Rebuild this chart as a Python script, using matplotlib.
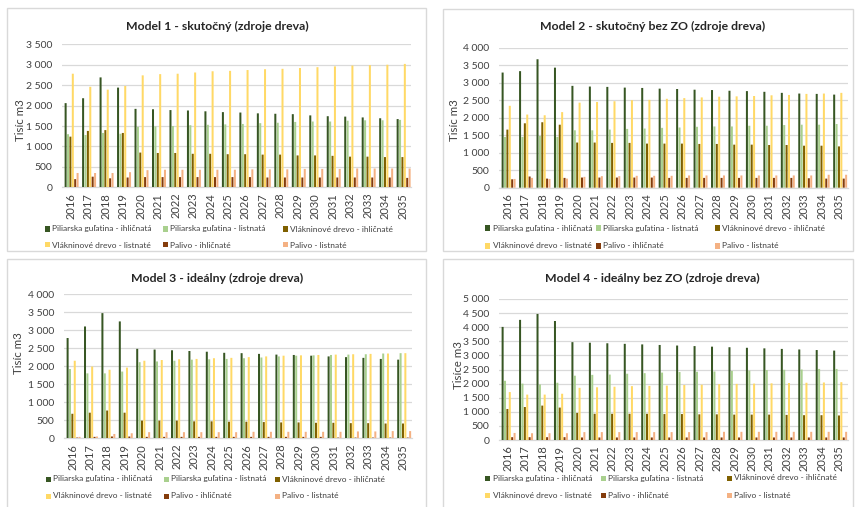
import matplotlib
matplotlib.use("Agg")
import matplotlib.pyplot as plt
from matplotlib.patches import Rectangle
from matplotlib.ticker import FuncFormatter, MultipleLocator
import numpy as np

plt.rcParams['font.family'] = ['Lato', 'DejaVu Sans']

years = [str(y) for y in range(2016, 2036)]
series_names = [
    "Piliarska guľatina - ihličnatá",
    "Piliarska guľatina - listnatá",
    "Vlákninové drevo - ihličnaté",
    "Vlákninové drevo - listnaté",
    "Palivo - ihličnaté",
    "Palivo - listnaté",
]
colors = ["#375623", "#A9D08E", "#7F6000", "#FFD966", "#843C0C", "#F4B183"]

# Model 1 - skutočný
m1_pgi = [2060, 2180, 2690, 2440, 1920, 1910, 1890, 1880, 1860, 1840, 1830, 1810, 1800, 1790, 1760, 1740, 1730, 1710, 1690, 1670]
m1_pgl = [1300, 1280, 1330, 1310, 1480, 1490, 1500, 1520, 1530, 1540, 1550, 1570, 1580, 1600, 1610, 1610, 1630, 1640, 1640, 1650]
m1_vdi = [1240, 1380, 1400, 1330, 850, 840, 840, 820, 820, 810, 810, 800, 800, 780, 780, 770, 750, 750, 740, 740]
m1_vdl = [2780, 2460, 2390, 2480, 2740, 2770, 2780, 2810, 2840, 2850, 2870, 2890, 2900, 2920, 2940, 2960, 2980, 2990, 3000, 3020]
m1_pi = [200, 260, 220, 240, 250, 250, 250, 250, 250, 250, 250, 240, 240, 240, 240, 240, 240, 240, 240, 230]
m1_pl = [350, 350, 350, 370, 420, 430, 430, 430, 430, 430, 440, 440, 440, 450, 450, 450, 460, 460, 460, 460]

# Model 2 - skutočný bez ZO
m2_pgi = [3290, 3330, 3670, 3430, 2910, 2890, 2880, 2860, 2850, 2830, 2820, 2800, 2790, 2770, 2760, 2740, 2710, 2690, 2680, 2660]
m2_pgl = [1450, 1450, 1480, 1450, 1640, 1640, 1660, 1680, 1690, 1710, 1720, 1740, 1750, 1750, 1770, 1770, 1790, 1800, 1800, 1820]
m2_vdi = [1660, 1840, 1870, 1800, 1290, 1290, 1280, 1280, 1260, 1260, 1260, 1250, 1250, 1230, 1230, 1220, 1220, 1200, 1200, 1180]
m2_vdl = [2340, 2090, 2070, 2160, 2430, 2450, 2470, 2500, 2510, 2540, 2560, 2580, 2600, 2610, 2620, 2640, 2650, 2680, 2690, 2710]
m2_pi = [240, 320, 260, 280, 290, 290, 290, 290, 290, 280, 280, 280, 280, 280, 280, 280, 280, 270, 260, 260]
m2_pl = [250, 280, 250, 260, 310, 330, 330, 340, 340, 340, 350, 350, 350, 350, 350, 350, 350, 350, 370, 370]

# Model 3 - ideálny
m3_pgi = [2780, 3100, 3470, 3240, 2480, 2460, 2440, 2420, 2400, 2370, 2360, 2340, 2320, 2310, 2290, 2270, 2250, 2230, 2200, 2180]
m3_pgl = [1920, 1800, 1800, 1850, 2110, 2130, 2150, 2180, 2190, 2200, 2220, 2240, 2270, 2290, 2300, 2310, 2320, 2330, 2350, 2360]
m3_vdi = [680, 710, 770, 710, 490, 490, 490, 470, 470, 460, 460, 450, 440, 440, 430, 430, 420, 420, 410, 410]
m3_vdl = [2150, 1990, 1900, 1960, 2150, 2170, 2190, 2200, 2220, 2230, 2250, 2270, 2290, 2300, 2310, 2320, 2330, 2340, 2350, 2360]
m3_pi = [20, 40, 50, 50, 40, 40, 40, 40, 40, 40, 40, 40, 40, 40, 40, 20, 20, 20, 20, 20]
m3_pl = [40, 50, 120, 140, 170, 170, 170, 170, 170, 170, 180, 180, 180, 180, 180, 180, 190, 190, 200, 200]

# Model 4 - ideálny bez ZO
m4_pgi = [4010, 4260, 4470, 4220, 3470, 3450, 3430, 3410, 3390, 3370, 3350, 3330, 3310, 3290, 3270, 3250, 3230, 3210, 3190, 3170]
m4_pgl = [2100, 2000, 1970, 2030, 2280, 2310, 2320, 2350, 2370, 2390, 2410, 2420, 2430, 2450, 2460, 2480, 2490, 2500, 2520, 2520]
m4_vdi = [1100, 1170, 1220, 1150, 960, 930, 930, 930, 930, 920, 920, 910, 910, 900, 900, 900, 890, 880, 880, 870]
m4_vdl = [1700, 1610, 1610, 1640, 1850, 1870, 1890, 1910, 1920, 1930, 1950, 1960, 1980, 1990, 2000, 2010, 2020, 2030, 2040, 2050]
m4_pi = [100, 100, 100, 100, 90, 90, 90, 90, 90, 90, 90, 90, 90, 90, 90, 90, 90, 90, 90, 90]
m4_pl = [250, 240, 240, 240, 280, 280, 280, 280, 280, 280, 280, 280, 290, 290, 290, 290, 290, 290, 290, 290]

titles = ["Model 1 - skutočný (zdroje dreva)", "Model 2 - skutočný bez ZO (zdroje dreva)",
          "Model 3 - ideálny (zdroje dreva)", "Model 4 - ideálny bez ZO (zdroje dreva)"]
ylabels = ["Tisíc m3", "Tisíc m3", "Tisíc m3", "Tisíce m3"]
ymaxes = [3500, 4000, 4000, 5000]
models = [
    [m1_pgi, m1_pgl, m1_vdi, m1_vdl, m1_pi, m1_pl],
    [m2_pgi, m2_pgl, m2_vdi, m2_vdl, m2_pi, m2_pl],
    [m3_pgi, m3_pgl, m3_vdi, m3_vdl, m3_pi, m3_pl],
    [m4_pgi, m4_pgl, m4_vdi, m4_vdl, m4_pi, m4_pl],
]

W, H = 856, 507
fig = plt.figure(figsize=(W / 100, H / 100), dpi=100)
fig.patch.set_facecolor("white")

def fx(x):
    return x / W

def fy(y):
    return 1 - y / H

# panel frames (pixel coords: left, top, right, bottom)
frames = [(7, 8, 426, 251), (443, 9, 853, 251), (7, 259, 426, 510), (443, 259, 853, 510)]
for (l, t, r, b) in frames:
    fig.add_artist(Rectangle((fx(l), fy(b)), fx(r - l), (b - t) / H, transform=fig.transFigure,
                             facecolor="none", edgecolor="#D9D9D9", lw=1.0))

# plot areas (left, top, right, bottom)
areas = [(62, 44.3, 411.5, 187.3), (499, 47.7, 848, 187.7), (64, 294, 412, 438.3), (499, 299, 848, 440)]
title_pos = [(217, 26), (653, 26), (217, 278), (652, 278)]
ylabel_pos = [(20, 120), (455, 120), (18, 353), (458, 365)]
leg_cols = [(47, 165, 285), (488, 598, 717), (48, 166, 277), (488, 603, 729)]
leg_rows = [(229, 245), (228, 246), (479, 496), (478, 495)]

fmt = FuncFormatter(lambda v, p: f"{int(v):,}".replace(",", " "))
x = np.arange(len(years))
step = 0.137
bw = 0.115

for m in range(4):
    l, t, r, b = areas[m]
    ax = fig.add_axes([fx(l), fy(b), fx(r - l), (b - t) / H])
    for k, vals in enumerate(models[m]):
        bars = ax.bar(x + (k - 2.5) * step + 0.05, vals, width=bw, color=colors[k], zorder=3, linewidth=0)
        for p in bars:
            p.set_snap(False)
    ax.set_xlim(-0.5, len(years) - 0.5)
    ax.set_ylim(0, ymaxes[m])
    ax.yaxis.set_major_locator(MultipleLocator(500))
    ax.yaxis.set_major_formatter(fmt)
    ax.grid(axis="y", color="#D9D9D9", lw=0.9, zorder=0)
    for s in ["top", "right", "left"]:
        ax.spines[s].set_visible(False)
    ax.spines["bottom"].set_color("#D9D9D9")
    ax.spines["bottom"].set_linewidth(0.9)
    ax.set_xticks(x)
    ax.set_xticklabels(years, rotation=90, fontsize=8, color="#404040")
    ax.tick_params(axis="x", length=0, pad=4)
    ax.tick_params(axis="y", length=0, pad=7, labelsize=7.5, labelcolor="#404040")
    tx, ty = title_pos[m]
    fig.text(fx(tx), fy(ty), titles[m], ha="center", va="center", fontsize=8.8,
             fontweight="bold", color="#262626")
    lx, ly = ylabel_pos[m]
    fig.text(fx(lx), fy(ly), ylabels[m], ha="center", va="center", rotation=90,
             fontsize=8.3, color="#404040")
    for k, name in enumerate(series_names):
        cx = leg_cols[m][k % 3]
        cy = leg_rows[m][k // 3]
        fig.add_artist(Rectangle((fx(cx - 2.5), fy(cy + 2.5)), fx(5), 5 / H,
                                 transform=fig.transFigure, facecolor=colors[k], edgecolor="none"))
        fig.text(fx(cx + 5), fy(cy), name, ha="left", va="center", fontsize=6.0, color="#404040")

fig.savefig("out.png", dpi=100)
